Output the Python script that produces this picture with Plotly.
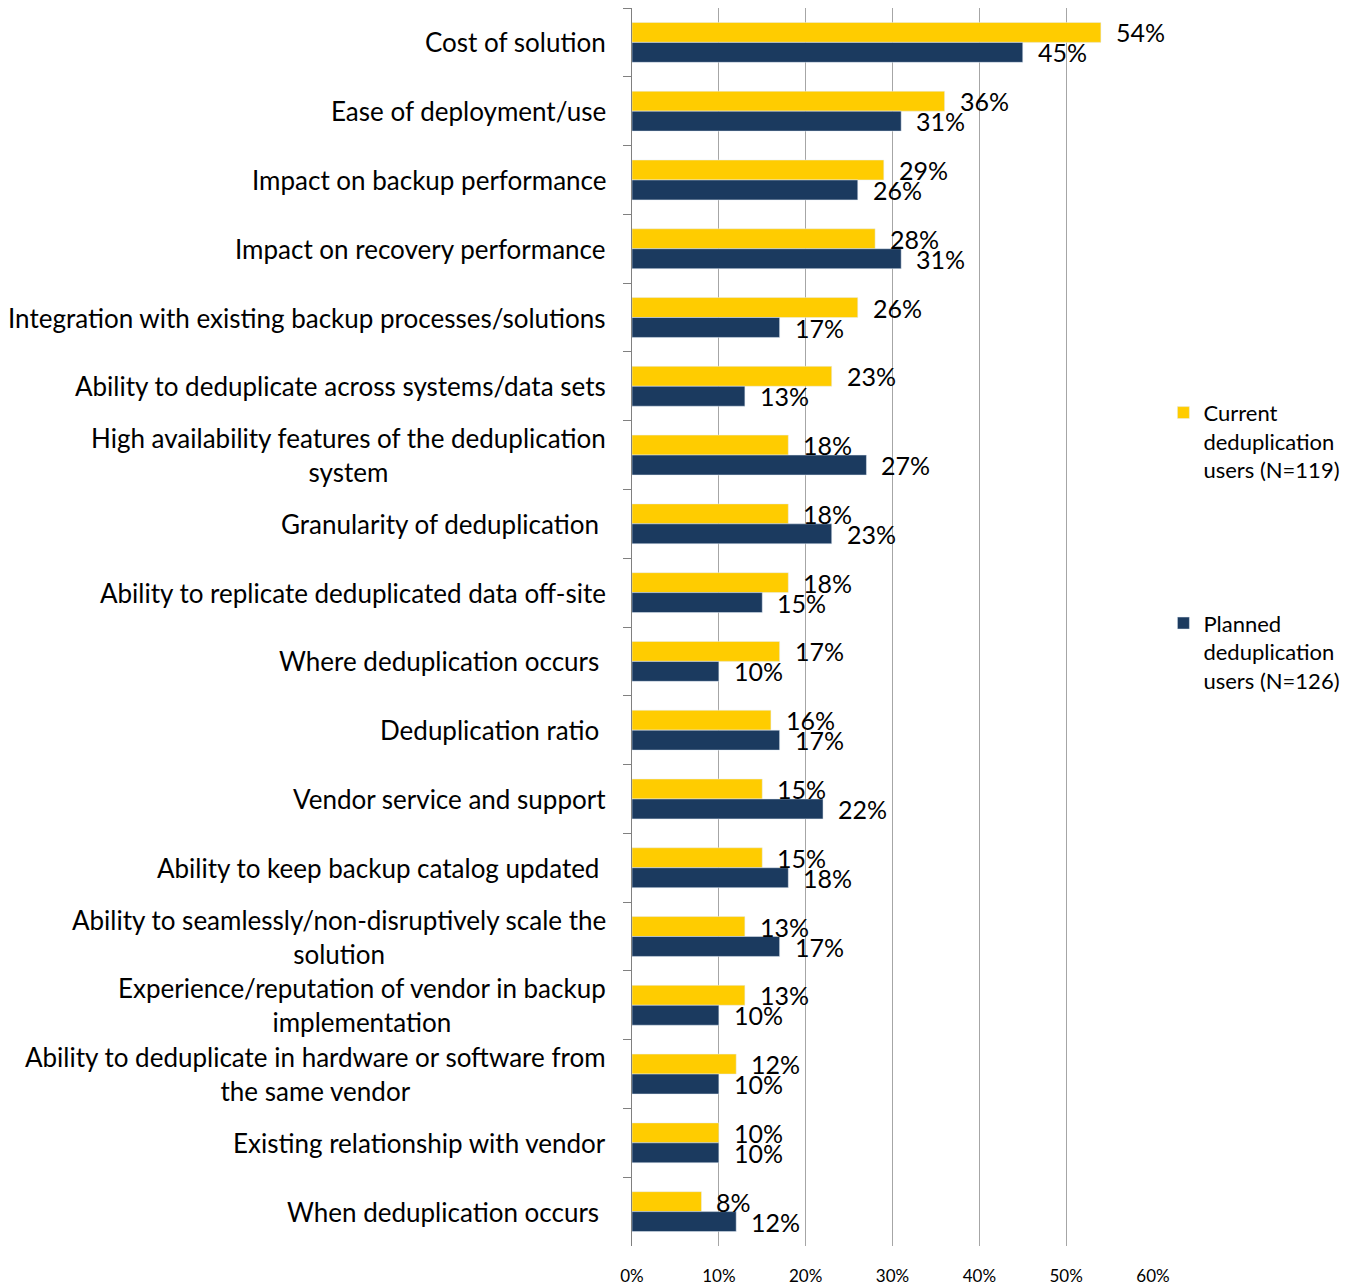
import plotly.graph_objects as go

categories = [
    "Cost of solution",
    "Ease of deployment/use",
    "Impact on backup performance",
    "Impact on recovery performance",
    "Integration with existing backup processes/solutions",
    "Ability to deduplicate across systems/data sets",
    "High availability features of the deduplication<br>system",
    "Granularity of deduplication\u00a0",
    "Ability to replicate deduplicated data off-site",
    "Where deduplication occurs\u00a0",
    "Deduplication ratio\u00a0",
    "Vendor service and support",
    "Ability to keep backup catalog updated\u00a0",
    "Ability to seamlessly/non-disruptively scale the<br>solution",
    "Experience/reputation of vendor in backup<br>implementation",
    "Ability to deduplicate in hardware or software from<br>the same vendor",
    "Existing relationship with vendor",
    "When deduplication occurs\u00a0",
]
current_users = [54, 36, 29, 28, 26, 23, 18, 18, 18, 17, 16, 15, 15, 13, 13, 12, 10, 8]
planned_users = [45, 31, 26, 31, 17, 13, 27, 23, 15, 10, 17, 22, 18, 17, 10, 10, 10, 12]
x_ticks = [0, 10, 20, 30, 40, 50, 60]

FONT = "Lato"
YELLOW = "#FFCC00"
NAVY = "#1B3A5F"

fig = go.Figure()
fig.add_trace(go.Bar(
    y=categories, x=current_users, orientation="h", name="Current<br>deduplication<br>users (N=119)",
    marker=dict(color=YELLOW), legend="legend",
))
fig.add_trace(go.Bar(
    y=categories, x=planned_users, orientation="h", name="Planned<br>deduplication<br>users (N=126)",
    marker=dict(color=NAVY), legend="legend2",
))

annotations = []
for cat, cur, pla in zip(categories, current_users, planned_users):
    annotations.append(dict(x=cur, y=cat, text=f"{cur}%", showarrow=False, xanchor="left",
                            xshift=13, yshift=10, font=dict(family=FONT, size=25, color="black")))
    annotations.append(dict(x=pla, y=cat, text=f"{pla}%", showarrow=False, xanchor="left",
                            xshift=13, yshift=-10, font=dict(family=FONT, size=25, color="black")))
    # category labels, centred when wrapped
    annotations.append(dict(x=0, xref="paper", y=cat, yref="y", text=cat, showarrow=False,
                            xanchor="right", align="center", xshift=-24,
                            font=dict(family=FONT, size=26, color="black")))

# page has an 8px body margin, so the figure is sized 8px smaller than the window
fig.update_layout(
    width=1341, height=1277,
    margin=dict(l=624, r=196, t=0, b=39),
    paper_bgcolor="white", plot_bgcolor="white",
    barmode="group", bargap=0.42, bargroupgap=0,
    font=dict(family=FONT, color="black"),
    annotations=annotations,
    showlegend=True,
    legend=dict(x=1.02, y=0.69, xanchor="left", yanchor="top", itemwidth=30, valign="top",
                font=dict(family=FONT, size=22), bgcolor="rgba(0,0,0,0)"),
    legend2=dict(x=1.02, y=0.52, xanchor="left", yanchor="top", itemwidth=30, valign="top",
                 font=dict(family=FONT, size=22), bgcolor="rgba(0,0,0,0)"),
)
fig.update_xaxes(
    range=[0, 60], tickvals=x_ticks, ticktext=[f"{t}%" for t in x_ticks],
    showgrid=True, gridcolor="#A6A6A6", gridwidth=1, zeroline=False, showline=False,
    tickfont=dict(family=FONT, size=17), ticks="", ticklabelstandoff=18,
)
fig.update_yaxes(
    autorange="reversed", showticklabels=False, ticks="outside", tickson="boundaries",
    ticklen=8, tickcolor="#808080", showline=True, linecolor="#808080", linewidth=1,
    showgrid=False,
)

fig.write_html("out.html")
